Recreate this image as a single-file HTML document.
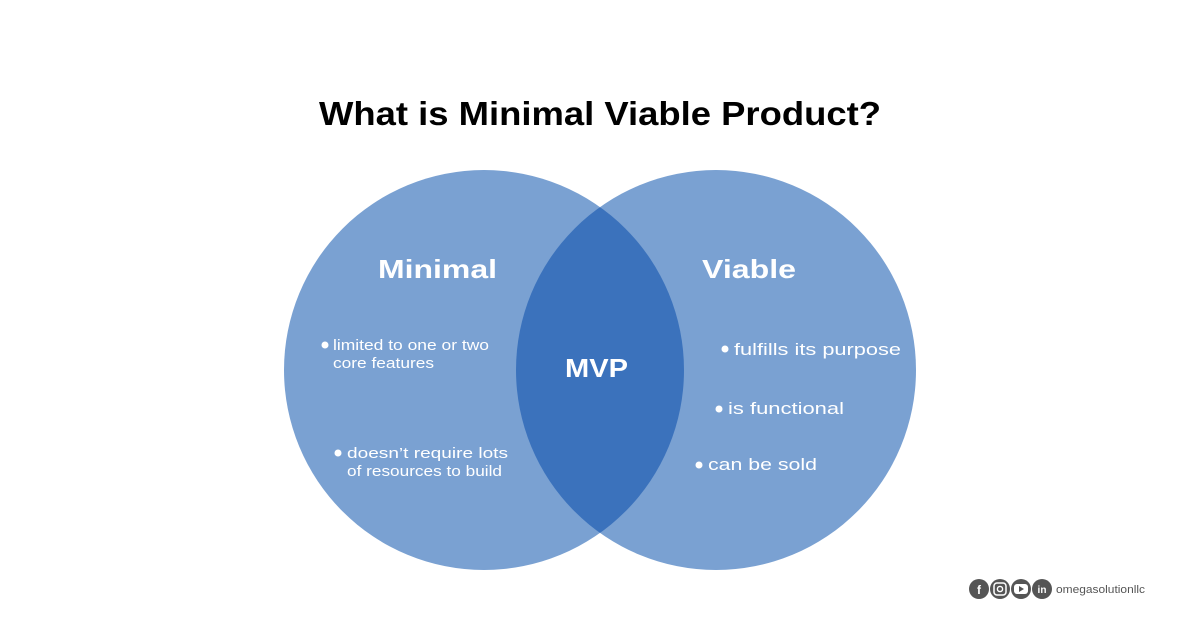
<!DOCTYPE html>
<html><head><meta charset="utf-8"><style>
html,body{margin:0;padding:0;background:#fff;}
svg{display:block;font-family:"Liberation Sans",sans-serif;}
</style></head><body>
<svg width="1200" height="628" viewBox="0 0 1200 628" xmlns="http://www.w3.org/2000/svg">
<rect width="1200" height="628" fill="#fff"/>
<text x="600" y="125" text-anchor="middle" font-size="33" font-weight="bold" fill="#000" textLength="562" lengthAdjust="spacingAndGlyphs">What is Minimal Viable Product?</text>
<defs><clipPath id="cl"><circle cx="484" cy="370" r="200"/></clipPath></defs>
<circle cx="484" cy="370" r="200" fill="#7aa1d2"/>
<circle cx="716" cy="370" r="200" fill="#7aa1d2"/>
<circle cx="716" cy="370" r="200" fill="#3b72bc" clip-path="url(#cl)"/>
<g fill="#fff" font-weight="bold" font-size="26">
<text x="378" y="278" textLength="119" lengthAdjust="spacingAndGlyphs">Minimal</text>
<text x="702" y="278" textLength="94" lengthAdjust="spacingAndGlyphs">Viable</text>
<text x="565" y="377" textLength="63" lengthAdjust="spacingAndGlyphs">MVP</text>
</g>
<g fill="#fff" font-size="15">
<circle cx="325" cy="345" r="3.5"/>
<text x="333" y="350" textLength="156" lengthAdjust="spacingAndGlyphs">limited to one or two</text>
<text x="333" y="368" textLength="101" lengthAdjust="spacingAndGlyphs">core features</text>
<circle cx="338" cy="453" r="3.5"/>
<text x="347" y="458" textLength="161" lengthAdjust="spacingAndGlyphs">doesn’t require lots</text>
<text x="347" y="476" textLength="155" lengthAdjust="spacingAndGlyphs">of resources to build</text>
<circle cx="725" cy="349" r="3.5"/>
<text x="734" y="355" font-size="17" textLength="167" lengthAdjust="spacingAndGlyphs">fulfills its purpose</text>
<circle cx="719" cy="409" r="3.5"/>
<text x="728" y="414" font-size="17" textLength="116" lengthAdjust="spacingAndGlyphs">is functional</text>
<circle cx="699" cy="465" r="3.5"/>
<text x="708" y="470" font-size="17" textLength="109" lengthAdjust="spacingAndGlyphs">can be sold</text>
</g>
<g fill="#555">
<circle cx="979" cy="589" r="10"/>
<circle cx="1000" cy="589" r="10"/>
<circle cx="1021" cy="589" r="10"/>
<circle cx="1042" cy="589" r="10"/>
</g>
<g fill="#fff" font-weight="bold" font-size="12" text-anchor="middle">
<text x="979" y="594">f</text>
<text x="1042" y="593" font-size="10">in</text>
</g>
<rect x="994" y="583" width="12" height="12" rx="3" fill="none" stroke="#fff" stroke-width="1.5"/>
<circle cx="1000" cy="589" r="2.6" fill="none" stroke="#fff" stroke-width="1.4"/>
<rect x="1014" y="584" width="14" height="10" rx="3" fill="#fff"/>
<polygon points="1019,586 1019,592 1024,589" fill="#555"/>
<text x="1056" y="593" font-size="11" fill="#555" textLength="89" lengthAdjust="spacingAndGlyphs">omegasolutionllc</text>
</svg>
</body></html>
